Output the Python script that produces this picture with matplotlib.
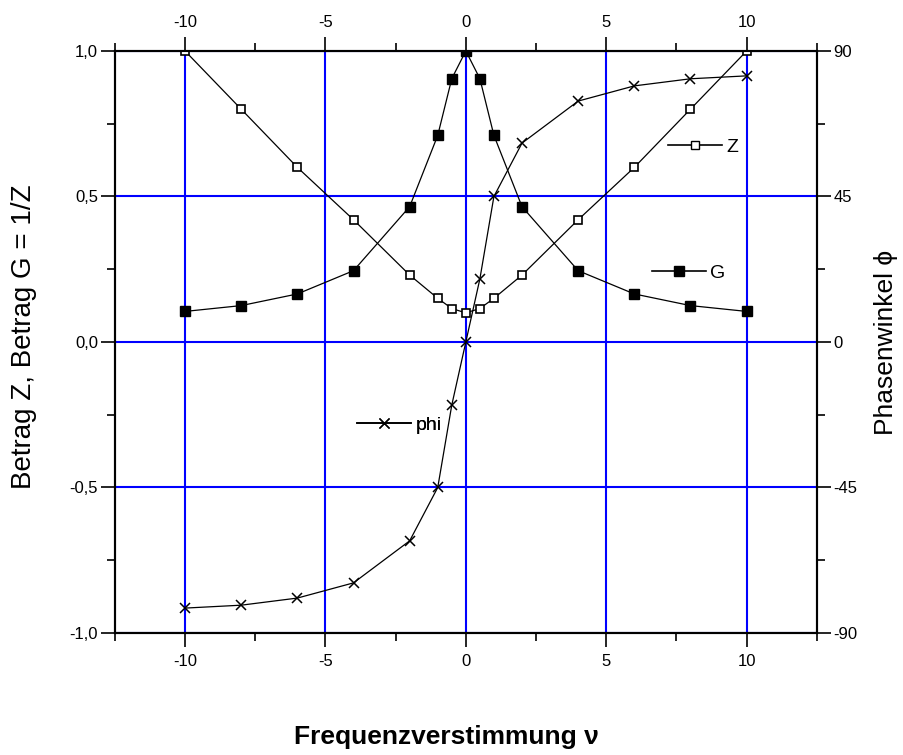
import matplotlib
matplotlib.use("Agg")
import matplotlib.pyplot as plt
from matplotlib.ticker import MultipleLocator, FuncFormatter
from matplotlib.lines import Line2D

nu = [-10, -8, -6, -4, -2, -1, -0.5, 0, 0.5, 1, 2, 4, 6, 8, 10]
betrag_z = [1.0, 0.80, 0.60, 0.42, 0.23, 0.15, 0.115, 0.10, 0.115, 0.15, 0.23, 0.42, 0.60, 0.80, 1.0]
betrag_g = [0.105, 0.125, 0.165, 0.245, 0.465, 0.71, 0.905, 1.0, 0.905, 0.71, 0.465, 0.245, 0.165, 0.125, 0.105]
phi = [-82.3, -81.4, -79.2, -74.5, -61.5, -45, -19.5, 0, 19.5, 45, 61.5, 74.5, 79.2, 81.4, 82.3]

plt.rcParams['axes.unicode_minus'] = False
tick_font = ['Liberation Sans Narrow', 'Liberation Sans', 'DejaVu Sans']
label_font = ['Liberation Sans', 'DejaVu Sans']

fig = plt.figure(figsize=(9.04, 7.55), dpi=100)
ax = fig.add_axes([0.127, 0.1616, 0.7766, 0.7709])
ax2 = ax.twinx()

ax.set_xlim(-12.5, 12.5)
ax.set_ylim(-1.0, 1.0)
ax2.set_ylim(-90, 90)

ax.xaxis.set_major_locator(MultipleLocator(5))
ax.xaxis.set_minor_locator(MultipleLocator(2.5))
ax.yaxis.set_major_locator(MultipleLocator(0.5))
ax.yaxis.set_minor_locator(MultipleLocator(0.25))
ax.yaxis.set_major_formatter(FuncFormatter(lambda v, p: f"{v:.1f}".replace('.', ',')))
ax2.yaxis.set_major_locator(MultipleLocator(45))
ax2.yaxis.set_minor_locator(MultipleLocator(22.5))

ax.grid(True, which='major', color='#0000ff', lw=1.5)
ax.set_axisbelow(True)

for a in (ax, ax2):
    a.tick_params(which='major', direction='out', length=10, width=1.2, labelsize=12, pad=2)
    a.tick_params(which='minor', direction='out', length=6, width=1.2)
    for s in a.spines.values():
        s.set_linewidth(1.5)
ax.tick_params(which='both', top=True, labeltop=True)
ax.tick_params(axis='x', pad=5)
for lab in ax.get_xticklabels() + ax.get_yticklabels() + ax2.get_yticklabels():
    lab.set_family(tick_font)

ax.plot(nu, betrag_z, color='black', lw=0.9, marker='s', markersize=6,
        markerfacecolor='white', markeredgecolor='black', markeredgewidth=1.2, zorder=3)
ax.plot(nu, betrag_g, color='black', lw=0.9, marker='s', markersize=7.5,
        markerfacecolor='black', markeredgecolor='black', zorder=3)
ax2.plot(nu, phi, color='black', lw=0.9, marker='x', markersize=7,
         markeredgewidth=1.1, zorder=3)

# Achsenbeschriftungen
fig.text(24 / 904, 1 - 337 / 755, "Betrag Z, Betrag G = 1/Z", family=label_font,
         fontsize=20, rotation=90, ha='center', va='center')
fig.text(886 / 904, 1 - 342 / 755, "Phasenwinkel \u03d5", family=label_font,
         fontsize=19, rotation=90, ha='center', va='center')
fig.text(446 / 904, 11 / 755, "Frequenzverstimmung \u03bd", family=label_font, fontsize=19,
         fontweight='bold', ha='center', va='baseline')

# Legendeneinträge einzeln platziert
items = [
    (Line2D([], [], color='black', lw=1.2, marker='s', markersize=6, markerfacecolor='white',
            markeredgecolor='black'), "Z", (0.788, 0.835)),
    (Line2D([], [], color='black', lw=1.2, marker='s', markersize=7.5, markerfacecolor='black'),
     "G", (0.765, 0.619)),
    (Line2D([], [], color='black', lw=1.2, marker='x', markersize=7), "phi", (0.345, 0.357)),
]
for handle, text, pos in items:
    leg = ax2.legend([handle], [text], loc='center left', bbox_to_anchor=pos,
                     frameon=False, borderpad=0, borderaxespad=0, handlelength=2.8,
                     handletextpad=0.2, prop={'family': tick_font, 'size': 14})
    ax2.add_artist(leg)

fig.savefig("out.png", dpi=100, facecolor='white')
